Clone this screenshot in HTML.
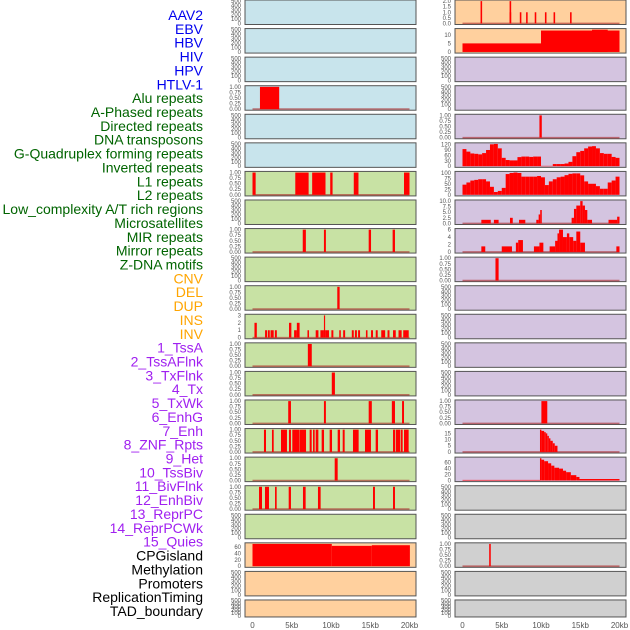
<!DOCTYPE html>
<html><head><meta charset="utf-8">
<style>
html,body{margin:0;padding:0;background:#fff;}
svg{display:block;font-family:"Liberation Sans",sans-serif;}
</style></head>
<body>
<svg id="chart" width="630" height="630" viewBox="0 0 630 630" xmlns="http://www.w3.org/2000/svg">
<g id="labels"></g>
<g id="panels"></g>
<g id="xaxes"></g>
</svg>
<script>
// ---- labels ----
const trackLabels = ["AAV2","EBV","HBV","HIV","HPV","HTLV-1","Alu repeats","A-Phased repeats","Directed repeats","DNA transposons","G-Quadruplex forming repeats","Inverted repeats","L1 repeats","L2 repeats","Low_complexity A/T rich regions","Microsatellites","MIR repeats","Mirror repeats","Z-DNA motifs","CNV","DEL","DUP","INS","INV","1_TssA","2_TssAFlnk","3_TxFlnk","4_Tx","5_TxWk","6_EnhG","7_Enh","8_ZNF_Rpts","9_Het","10_TssBiv","11_BivFlnk","12_EnhBiv","13_ReprPC","14_ReprPCWk","15_Quies","CPGisland","Methylation","Promoters","ReplicationTiming","TAD_boundary"];
const labelGroups = ["v","v","v","v","v","v","r","r","r","r","r","r","r","r","r","r","r","r","r","c","c","c","c","c","s","s","s","s","s","s","s","s","s","s","s","s","s","s","s","o","o","o","o","o"];
const xTickKb = [0,5,10,15,20];
const xTickLabels = ["0","5kb","10kb","15kb","20kb"];

// ---- left column data: [startKb, endKb, value] ----
const leftAlu = [[0.95,3.4,1]];
const leftL1 = [[0,0.4,1],[5.45,7.15,1],[7.6,9.3,1],[9.9,10.2,1],[12.9,13.5,1],[19.3,20.0,1]];
const leftMIR = [[6.4,6.8,1],[9.1,9.35,1],[14.8,15.1,1],[17.85,18.15,1]];
const leftDEL = [[10.8,11.1,1]];
const leftINS = [[0.25,0.55,2],[1.6,1.85,1],[1.95,2.2,1],[2.3,2.7,1],[2.85,3.1,1],[4.65,4.95,2],[5.3,5.65,1],[5.65,6.0,2],[7.0,7.2,1],[8.05,8.4,1],[8.65,9.1,1],[9.1,9.25,3],[9.25,9.75,1],[10.05,10.3,1],[11.05,11.25,1],[11.55,11.8,1],[12.65,12.9,1],[13.05,13.3,1],[13.45,13.7,1],[14.45,14.65,1],[15.1,15.35,1],[15.7,15.95,1],[16.4,16.9,1],[17.2,17.45,1],[17.9,18.25,1],[18.6,19.0,1],[19.2,19.9,1]];
const leftINV = [[7.05,7.55,1]];
const left1TssA = [[10.1,10.5,1]];
const left2Tss = [[4.55,4.9,1],[9.1,9.35,1],[14.8,15.2,1],[17.75,18.15,1],[19.05,19.3,1]];
const left3Tx = [[1.46,1.72,1],[2.48,2.70,1],[3.63,4.39,1],[4.65,4.90,1],[5.07,5.97,1],[6.01,6.82,1],[7.28,7.54,1],[7.71,7.92,1],[8.05,8.39,1],[8.81,9.11,1],[9.83,10.13,1],[10.85,11.15,1],[11.49,11.74,1],[12.80,13.52,1],[14.33,15.09,1],[15.69,15.99,1],[17.90,18.19,1],[18.28,18.79,1],[18.87,19.13,1],[19.30,19.89,1]];
const left4Tx = [[10.47,10.85,1]];
const left5TxWk = [[0.83,1.21,1],[1.59,2.10,1],[2.87,3.08,1],[4.61,4.90,1],[6.43,6.77,1],[8.34,8.68,1],[15.35,15.60,1],[17.90,18.15,1]];
const leftCPG = [[0,10.1,70],[10.1,15.2,64],[15.2,20.05,66]];

// ---- right column data ----
const rightSpikes2 = [[2.3,2.5,2],[6.0,6.2,2],[6.0,6.2,1],[7.3,7.5,1],[8.1,8.3,1],[9.2,9.4,1],[10.5,10.7,1],[11.6,11.8,1],[13.7,13.9,1]];
const rightStep = [[0,10,5],[10,20,12.5],[16.5,18.5,13]];
const rightSpikeA = [[9.8,10.1,1]];
const gQuadVals = [94,80,70,68,65,72,89,120,122,98,46,34,32,32,50,53,53,51,53,53,2,2,2,12,12,12,15,24,55,77,84,98,108,110,98,72,68,68,51,46];
const invertedVals = [47,57,66,69,72,72,62,37,13,18,32,96,101,103,101,84,84,84,84,87,81,45,62,72,81,84,91,97,99,99,90,62,51,51,40,28,28,57,66,84];
const rightLowC = [[2.4,3.6,1.6],[4.0,4.6,1.6],[6.05,6.4,2.5],[7.2,8.0,1.6],[9.4,9.7,1.6],[9.7,9.9,4],[9.9,10.1,6],[13.9,14.2,2.5],[14.2,14.5,6.5],[14.5,15.0,8],[15.0,15.3,10],[15.3,15.6,8],[15.6,15.9,6],[15.9,16.5,1.6],[18.6,19.7,1.6],[19.7,20.0,3]];
const rightMicro = [[2.4,2.9,1.5],[5.0,6.3,1.5],[6.8,7.1,2.5],[7.1,7.7,3.2],[9.1,9.8,1.5],[9.8,10.3,2.5],[11.1,11.8,1.5],[11.8,12.1,3],[12.1,12.3,5],[12.3,12.8,6],[12.8,13.3,4],[13.3,13.6,5],[13.6,14.1,4],[14.1,14.5,3],[14.5,15.0,5.5],[15.0,15.6,2.5],[19.6,20.0,1.5]];
const rightSpikeB = [[4.2,4.6,1]];
const rightSpikeC = [[10.05,10.8,1]];
const rightDecay15 = [[9.87,10.05,18],[10.05,10.4,17],[10.4,10.6,16],[10.6,10.8,15],[10.8,11.0,13],[11.0,11.2,11],[11.2,11.5,9],[11.5,11.75,7],[11.75,12.1,5]];
const rightDecay60 = [[0,9.87,2],[9.87,10.05,75],[10.05,10.4,70],[10.4,10.9,65],[10.9,11.3,58],[11.3,11.7,50],[11.7,12.3,43],[12.3,12.8,40],[12.8,13.2,33],[13.2,13.8,28],[13.8,14.5,18],[14.5,14.9,12],[14.9,20.0,5]];
const rightSpikeD = [[3.4,3.6,1]];

// ---- ticks ----
const tEmpty = ["0","100","200","300","400","500"];
const tOne = ["0.00","0.25","0.50","0.75","1.00"];
const tOneV = [0,0.25,0.5,0.75,1];
const tEmptyV = [0,100,200,300,400,500];

const NS = "http://www.w3.org/2000/svg";
function mk(tag, attrs, parent){const e=document.createElementNS(NS,tag);for(const k in attrs)e.setAttribute(k,attrs[k]);parent.appendChild(e);return e;}

const colors = {v:"#0000ee",r:"#006400",c:"#ffa500",s:"#a020f0",o:"#000"};
const lg = document.getElementById("labels");
trackLabels.forEach((t,i)=>{
  const e = mk("text",{x:203,y:15+i*13.86+5,"text-anchor":"end","font-size":"14",fill:colors[labelGroups[i]]},lg);
  
  
  e.textContent = t;
});

const PG = document.getElementById("panels");
const bg = {blue:"#c8e4ec",green:"#c8e2a4",orange:"#ffd09e",purple:"#d4c4e0",grey:"#d0d0d0"};
function bins(vals){return vals.map((v,i)=>[i*0.5,(i+1)*0.5,v]);}

function panel(col,row,fill,tickV,tickL,ymax,bars,baseline){
  const x0 = col===0?245:455;
  const top = row*28.57;
  const h = row===21?17:24.5;
  const w = 171;
  const g = mk("g",{},PG);
  
  
  mk("rect",{x:x0,y:top,width:w,height:h,fill:fill,stroke:"#555","stroke-width":1},g);
  let ylo, yhi;
  if(ymax===null){ylo=-25;yhi=525;} else {ylo=-0.05*ymax;yhi=1.05*ymax;}
  const ys = v => top+h-(v-ylo)/(yhi-ylo)*h;
  const xs = kb => x0+7.5+kb*7.85;
  tickV.forEach((v,i)=>{
    const t = mk("text",{x:x0-4,y:ys(v)+2,"text-anchor":"end","font-size":"6",fill:"#555"},g);
    
    
    t.textContent = tickL[i];
  });
  if(baseline){
    const l = mk("line",{x1:xs(0),x2:xs(20),y1:ys(0),y2:ys(0),stroke:"rgba(170,40,40,0.6)","stroke-width":1.6},g);
    
    
  }
  (bars||[]).forEach(b=>{
    const r = mk("rect",{x:xs(b[0]),y:ys(b[2]),width:Math.max(0.8,xs(b[1])-xs(b[0])),height:ys(0)-ys(b[2]),fill:"#ff0000"},g);
    
    
  });
}

// left column
for(let r=0;r<22;r++){
  const fill = r<6?bg.blue:(r<19?bg.green:bg.orange);
  const map = {3:leftAlu,6:leftL1,8:leftMIR,10:leftDEL,12:leftINV,13:left1TssA,14:left2Tss,15:left3Tx,16:left4Tx,17:left5TxWk};
  if(map[r]) panel(0,r,fill,tOneV,tOne,1,map[r],true);
  else if(r===11) panel(0,r,fill,[0,1,2,3],["0","1","2","3"],3,leftINS,true);
  else if(r===19) panel(0,r,fill,[0,20,40,60],["0","20","40","60"],70,leftCPG,false);
  else panel(0,r,fill,tEmptyV,tEmpty,null,[],false);
}
// right column
for(let r=0;r<22;r++){
  const fill = r<2?bg.orange:(r<17?bg.purple:bg.grey);
  if(r===0) panel(1,r,fill,[0,0.5,1,1.5,2],["0.0","0.5","1.0","1.5","2.0"],2,rightSpikes2,true);
  else if(r===1) panel(1,r,fill,[0,5,10],["0","5","10"],13,rightStep,false);
  else if(r===4) panel(1,r,fill,tOneV,tOne,1,rightSpikeA,true);
  else if(r===5) panel(1,r,fill,[0,30,60,90,120],["0","30","60","90","120"],122,bins(gQuadVals),false);
  else if(r===6) panel(1,r,fill,[0,25,50,75,100],["0","25","50","75","100"],103,bins(invertedVals),false);
  else if(r===7) panel(1,r,fill,[0,2.5,5,7.5,10],["0.0","2.5","5.0","7.5","10.0"],10,rightLowC,true);
  else if(r===8) panel(1,r,fill,[0,2,4,6],["0","2","4","6"],6,rightMicro,true);
  else if(r===9) panel(1,r,fill,tOneV,tOne,1,rightSpikeB,true);
  else if(r===14) panel(1,r,fill,tOneV,tOne,1,rightSpikeC,true);
  else if(r===15) panel(1,r,fill,[0,5,10,15],["0","5","10","15"],18,rightDecay15,true);
  else if(r===16) panel(1,r,fill,[0,20,40,60],["0","20","40","60"],75,rightDecay60,false);
  else if(r===19) panel(1,r,fill,tOneV,tOne,1,rightSpikeD,true);
  else panel(1,r,fill,tEmptyV,tEmpty,null,[],false);
}
// x axes
const XA = document.getElementById("xaxes");
[252.5,462.5].forEach(base=>{
  xTickKb.forEach((kb,i)=>{
    const t = mk("text",{x:base+kb*7.85,y:628,"text-anchor":"middle","font-size":"8",fill:"#555"},XA);
    
    
    t.textContent = xTickLabels[i];
  });
});
</script>
</body></html>
